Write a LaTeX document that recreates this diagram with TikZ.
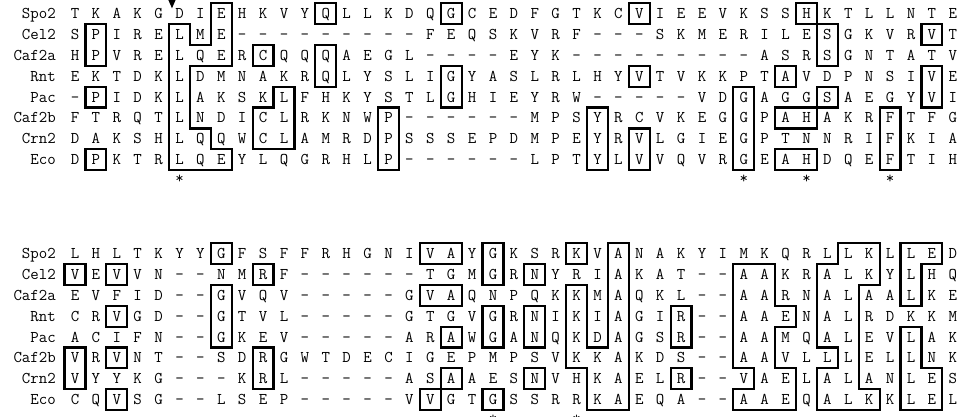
\documentclass[tikz,border=0pt]{standalone}
\newcommand{\seqnames}{Spo2,Cel2,Caf2a,Rnt,Pac,Caf2b,Crn2,Eco}
\begin{document}
\begin{tikzpicture}[x=20.9pt,y=-20.85pt,
  res/.style={font=\fontsize{16.4}{20}\selectfont\ttfamily,inner sep=0pt,text height=10pt,text depth=0pt},
  hl/.style={line width=2.2pt,line join=miter}]
\useasboundingbox (-75pt,13.75pt) rectangle (901pt,-403.25pt);
% first block
\foreach \n [count=\r from 0] in \seqnames
  \node[res,anchor=east] (tn\r) at (-0.91,\r) {\n};
\foreach \s [count=\r from 0] in {
  {T,K,A,K,G,D,I,E,H,K,V,Y,Q,L,L,K,D,Q,G,C,E,D,F,G,T,K,C,V,I,E,E,V,K,S,S,H,K,T,L,L,N,T,E},
  {S,P,I,R,E,L,M,E,-,-,-,-,-,-,-,-,-,F,E,Q,S,K,V,R,F,-,-,-,S,K,M,E,R,I,L,E,S,G,K,V,R,V,T},
  {H,P,V,R,E,L,Q,E,R,C,Q,Q,Q,A,E,G,L,-,-,-,-,E,Y,K,-,-,-,-,-,-,-,-,-,A,S,R,S,G,N,T,A,T,V},
  {E,K,T,D,K,L,D,M,N,A,K,R,Q,L,Y,S,L,I,G,Y,A,S,L,R,L,H,Y,V,T,V,K,K,P,T,A,V,D,P,N,S,I,V,E},
  {-,P,I,D,K,L,A,K,S,K,L,F,H,K,Y,S,T,L,G,H,I,E,Y,R,W,-,-,-,-,-,V,D,G,A,G,G,S,A,E,G,Y,V,I},
  {F,T,R,Q,T,L,N,D,I,C,L,R,K,N,W,P,-,-,-,-,-,-,M,P,S,Y,R,C,V,K,E,G,G,P,A,H,A,K,R,F,T,F,G},
  {D,A,K,S,H,L,Q,Q,W,C,L,A,M,R,D,P,S,S,S,E,P,D,M,P,E,Y,R,V,L,G,I,E,G,P,T,N,N,R,I,F,K,I,A},
  {D,P,K,T,R,L,Q,E,Y,L,Q,G,R,H,L,P,-,-,-,-,-,-,L,P,T,Y,L,V,V,Q,V,R,G,E,A,H,D,Q,E,F,T,I,H}}
  \foreach \a [count=\c from 0] in \s
    \node[res] (t\r-\c) at (\c,\r) {\a};
\foreach \c in {5,32,35,39}
  \node[res] (tstar\c) at (\c,7.9) {*};
\fill (4.45,-0.7) -- (4.83,-0.7) -- (4.64,-0.26) -- cycle;
\foreach \ca/\ra/\cb/\rb in {1/1/1/2,1/4/1/4,1/7/1/7,9/2/9/2,12/0/12/0,12/2/12/3,
    15/5/15/7,18/0/18/0,18/3/18/4,25/5/25/7,27/0/27/0,27/3/27/3,27/6/27/7,
    32/4/32/7,34/3/34/3,34/5/35/5,34/7/35/7,35/0/35/0,36/1/36/2,36/4/36/4,
    39/5/39/7,41/1/41/1,41/3/41/4}
  \draw[hl] (\ca-0.5,\ra-0.5) rectangle (\cb+0.5,\rb+0.5);
\draw[hl] (4.5,0.5) -- (5.5,0.5) -- (5.5,1.5) -- (6.5,1.5) -- (6.5,-0.5) -- (7.5,-0.5)
  -- (7.5,2.5) -- (5.5,2.5) -- (5.5,5.5) -- (6.5,5.5) -- (6.5,6.5) -- (7.5,6.5)
  -- (7.5,7.5) -- (4.5,7.5) -- cycle;
\draw[hl] (9.5,3.5) -- (10.5,3.5) -- (10.5,6.5) -- (8.5,6.5) -- (8.5,4.5) -- (9.5,4.5) -- cycle;
% second block
\begin{scope}[yshift=-239.95pt]
\foreach \n [count=\r from 0] in \seqnames
  \node[res,anchor=east] (bn\r) at (-0.91,\r) {\n};
\foreach \s [count=\r from 0] in {
  {L,H,L,T,K,Y,Y,G,F,S,F,F,R,H,G,N,I,V,A,Y,G,K,S,R,K,V,A,N,A,K,Y,I,M,K,Q,R,L,L,K,L,L,E,D},
  {V,E,V,V,N,-,-,N,M,R,F,-,-,-,-,-,-,T,G,M,G,R,N,Y,R,I,A,K,A,T,-,-,A,A,K,R,A,L,K,Y,L,H,Q},
  {E,V,F,I,D,-,-,G,V,Q,V,-,-,-,-,-,G,V,A,Q,N,P,Q,K,K,M,A,Q,K,L,-,-,A,A,R,N,A,L,A,A,L,K,E},
  {C,R,V,G,D,-,-,G,T,V,L,-,-,-,-,-,G,T,G,V,G,R,N,I,K,I,A,G,I,R,-,-,A,A,E,N,A,L,R,D,K,K,M},
  {A,C,I,F,N,-,-,G,K,E,V,-,-,-,-,-,A,R,A,W,G,A,N,Q,K,D,A,G,S,R,-,-,A,A,M,Q,A,L,E,V,L,A,K},
  {V,R,V,N,T,-,-,S,D,R,G,W,T,D,E,C,I,G,E,P,M,P,S,V,K,K,A,K,D,S,-,-,A,A,V,L,L,L,E,L,L,N,K},
  {V,Y,Y,K,G,-,-,-,K,R,L,-,-,-,-,-,A,S,A,A,E,S,N,V,H,K,A,E,L,R,-,-,V,A,E,L,A,L,A,N,L,E,S},
  {C,Q,V,S,G,-,-,L,S,E,P,-,-,-,-,-,V,V,G,T,G,S,S,R,R,K,A,E,Q,A,-,-,A,A,E,Q,A,L,K,K,L,E,L}}
  \foreach \a [count=\c from 0] in \s
    \node[res] (b\r-\c) at (\c,\r) {\a};
\foreach \c in {20,24}
  \node[res] (bstar\c) at (\c,7.9) {*};
\foreach \ca/\ra/\cb/\rb in {0/1/0/1,2/1/2/1,2/3/2/3,0/5/0/6,2/5/2/5,2/7/2/7,
    7/0/7/0,7/2/7/4,9/1/9/1,9/5/9/6,17/0/18/0,17/2/18/2,18/4/18/4,18/6/18/6,
    17/7/17/7,20/0/20/1,20/3/20/4,20/7/20/7,22/1/22/1,22/3/22/4,22/6/22/6,
    24/0/24/0,29/3/29/4,29/6/29/6}
  \draw[hl] (\ca-0.5,\ra-0.5) rectangle (\cb+0.5,\rb+0.5);
\draw[hl] (23.5,1.5) -- (24.5,1.5) -- (24.5,4.5) -- (25.5,4.5) -- (25.5,-0.5) -- (26.5,-0.5)
  -- (26.5,7.5) -- (24.5,7.5) -- (24.5,5.5) -- (23.5,5.5) -- cycle;
\draw[hl] (31.5,0.5) -- (33.5,0.5) -- (33.5,2.5) -- (34.5,2.5) -- (34.5,3.5) -- (33.5,3.5)
  -- (33.5,5.5) -- (34.5,5.5) -- (34.5,7.5) -- (31.5,7.5) -- (31.5,6.5) -- (32.5,6.5)
  -- (32.5,5.5) -- (31.5,5.5) -- cycle;
\draw[hl] (36.5,-0.5) -- (38.5,-0.5) -- (38.5,1.5) -- (37.5,1.5) -- (37.5,6.5) -- (38.5,6.5)
  -- (38.5,7.5) -- (35.5,7.5) -- (35.5,5.5) -- (36.5,5.5) -- (36.5,4.5) -- (35.5,4.5)
  -- (35.5,0.5) -- (36.5,0.5) -- cycle;
\draw[hl] (39.5,-0.5) -- (41.5,-0.5) -- (41.5,0.5) -- (40.5,0.5) -- (40.5,2.5) -- (39.5,2.5) -- cycle;
\draw[hl] (39.5,3.5) -- (40.5,3.5) -- (40.5,5.5) -- (41.5,5.5) -- (41.5,7.5) -- (39.5,7.5) -- cycle;
\end{scope}
\end{tikzpicture}
\end{document}
